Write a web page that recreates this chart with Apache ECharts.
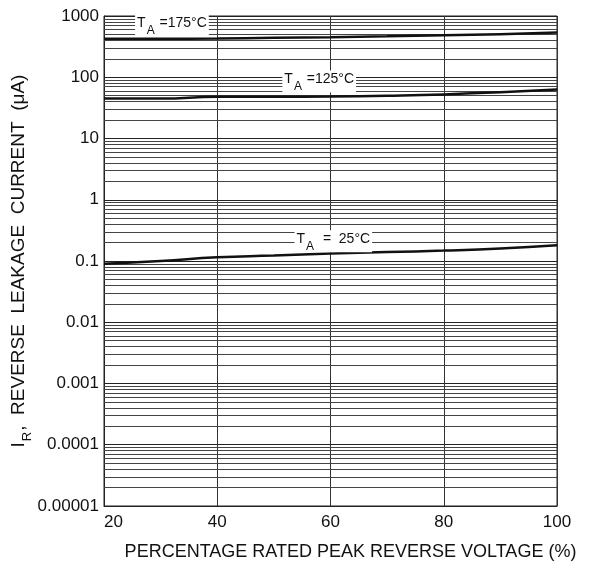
<!DOCTYPE html>
<html><head><meta charset="utf-8">
<script src="https://cdn.jsdelivr.net/npm/echarts@6/dist/echarts.min.js"></script>
<style>html,body{margin:0;padding:0;background:#fff}#c{width:595px;height:568px}</style>
</head><body><div id="c"></div>
<script>
// X values (% rated peak reverse voltage)
const xValues = [20, 30, 40, 50, 60, 70, 80, 90, 100];
// Leakage current (µA)
const i175 = [425, 425, 430, 440, 450, 465, 485, 505, 540];
const i125 = [45, 45, 48, 48, 48.5, 50, 52.5, 57, 63];
const i25  = [0.09, 0.1, 0.115, 0.123, 0.133, 0.14, 0.148, 0.16, 0.18];
// Y tick labels
const yTickLabels = ['0.00001','0.0001','0.001','0.01','0.1','1','10','100','1000'];
// Minor grid positions (multipliers within each decade)
const minorMult = [2,3,4,5,6,7,8,9];
const decades = [-5,-4,-3,-2,-1,0,1,2];
// label anchors [x, y] in data units
const lab175 = [32, 700], lab125 = [58, 85], lab25 = [60.5, 0.21];

const xMin = 20, xMax = 100;
const minorLines = [];
decades.forEach(d => minorMult.forEach(m => {
  const v = m * Math.pow(10, d);
  minorLines.push({coords: [[xMin, v], [xMax, v]]});
}));

const font = 'Liberation Sans, Arial, sans-serif';
function tagLabel(temp, coord, gap) {
  return {
    symbol: 'rect', symbolSize: 1, itemStyle: {color: 'rgba(0,0,0,0)'},
    data: [{coord: coord}],
    label: {
      show: true, position: 'inside', backgroundColor: '#fff', padding: [1, 2, 0, 2],
      formatter: '{t|T}{s|A}{t|' + gap + temp + '°C}',
      rich: {
        t: {fontFamily: font, fontSize: 14, color: '#111', lineHeight: 21, verticalAlign: 'top', padding:[1,0,0,0]},
        s: {fontFamily: font, fontSize: 12, color: '#111', lineHeight: 21, verticalAlign: 'bottom', padding:[0,1,0,1]}
      }
    }
  };
}
function mk(data) { return xValues.map((x, i) => [x, data[i]]); }

const chart = echarts.init(document.getElementById('c'), null, {renderer: 'canvas'});
chart.setOption({
  animation: false,
  backgroundColor: '#fff',
  grid: {left: 104, right: 38, top: 16, bottom: 62, show: true, borderColor: '#222', borderWidth: 1,
         containLabel: false, outerBoundsMode: 'none'},
  xAxis: {
    type: 'value', min: xMin, max: xMax, interval: 20,
    name: 'PERCENTAGE RATED PEAK REVERSE VOLTAGE (%)', nameLocation: 'middle', nameGap: 37,
    nameMoveOverlap: false,
    nameTextStyle: {fontFamily: font, fontSize: 18, color: '#111', padding: [0, 0, 0, 40]},
    axisLine: {show: true, lineStyle: {color: '#222'}}, axisTick: {show: false},
    axisLabel: {fontFamily: font, fontSize: 17, color: '#111', margin: 8, alignMinLabel: 'left'},
    splitLine: {show: true, lineStyle: {color: '#333', width: 1}}
  },
  yAxis: {
    type: 'log', logBase: 10, min: 0.00001, max: 1000,
    name: '{n|I}{r|R}{n|,  REVERSE  LEAKAGE  CURRENT  (\u03BCA)}', nameLocation: 'middle', nameGap: 70,
    nameMoveOverlap: false,
    nameTextStyle: {
      rich: {
        n: {fontFamily: font, fontSize: 19, color: '#111', lineHeight: 25, verticalAlign: 'top'},
        r: {fontFamily: font, fontSize: 13, color: '#111', lineHeight: 25, verticalAlign: 'bottom', padding: [0, 1, 0, 1]}
      }
    },
    axisLine: {show: true, lineStyle: {color: '#222'}}, axisTick: {show: false},
    axisLabel: {fontFamily: font, fontSize: 17, color: '#111', margin: 5,
      formatter: v => yTickLabels[Math.round(Math.log10(v)) + 5]},
    splitLine: {show: true, lineStyle: {color: '#222', width: 1}}
  },
  series: [
    {type: 'lines', coordinateSystem: 'cartesian2d', silent: true, z: 1,
     lineStyle: {color: '#444', width: 1, opacity: 1}, data: minorLines},
    {type: 'line', data: mk(i175), smooth: true, showSymbol: false, z: 3, lineStyle: {color: '#111', width: 2.5},
     markPoint: tagLabel('175', lab175, ' =')},
    {type: 'line', data: mk(i125), smooth: true, showSymbol: false, z: 3, lineStyle: {color: '#111', width: 2.5},
     markPoint: tagLabel('125', lab125, ' =')},
    {type: 'line', data: mk(i25), smooth: true, showSymbol: false, z: 3, lineStyle: {color: '#111', width: 2.5},
     markPoint: tagLabel('25', lab25, '  =  ')}
  ]
});
</script></body></html>
